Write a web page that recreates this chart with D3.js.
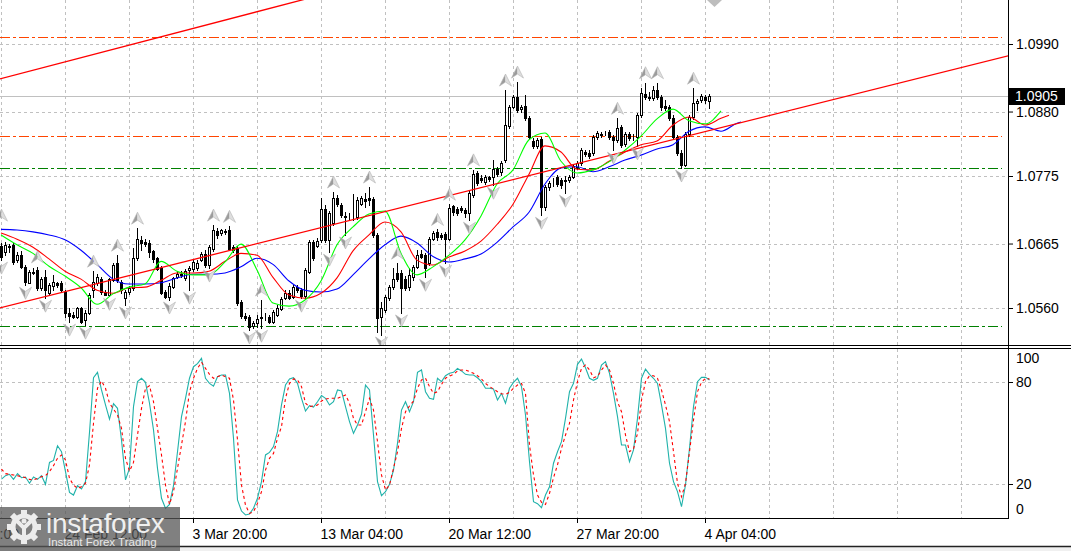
<!DOCTYPE html>
<html><head><meta charset="utf-8">
<script src="https://cdn.jsdelivr.net/npm/d3@7"></script>
<style>
html,body{margin:0;padding:0;background:#fff;overflow:hidden;}
svg{display:block;font-family:"Liberation Sans",Arial,sans-serif;}
</style></head><body>
<svg id="c" width="1071" height="551"></svg>
<script>
// ---------- DATA (EURUSD H4) ----------
const opens = [
1.0661,1.0651,1.0661,1.0663,1.0638,1.0646,1.0627,1.0601,1.0618,1.0622,
1.0593,1.0610,1.0584,1.0596,1.0601,1.0601,1.0586,1.0552,1.0549,1.0545,
1.0560,1.0540,1.0552,1.0589,1.0601,1.0607,1.0586,1.0581,1.0605,1.0633,
1.0602,1.0576,1.0586,1.0593,1.0641,1.0671,1.0667,1.0666,1.0653,1.0641,
1.0625,1.0586,1.0578,1.0594,1.0610,1.0614,1.0609,1.0622,1.0623,1.0625,
1.0638,1.0648,1.0630,1.0656,1.0685,1.0682,1.0685,1.0687,1.0659,1.0658,
1.0570,1.0547,1.0545,1.0531,1.0536,1.0544,1.0545,1.0545,1.0537,1.0549,
1.0558,1.0576,1.0584,1.0578,1.0594,1.0589,1.0579,1.0618,1.0667,1.0661,
1.0671,1.0721,1.0671,1.0698,1.0739,1.0728,1.0710,1.0710,1.0708,1.0708,
1.0729,1.0738,1.0739,1.0738,1.0679,1.0545,1.0557,1.0576,1.0594,1.0617,
1.0617,1.0607,1.0594,1.0610,1.0627,1.0648,1.0646,1.0633,1.0672,1.0684,
1.0679,1.0680,1.0672,1.0726,1.0721,1.0723,1.0720,1.0714,1.0744,1.0780,
1.0772,1.0765,1.0773,1.0773,1.0786,1.0782,1.0801,1.0856,1.0887,1.0904,
1.0884,1.0889,1.0869,1.0832,1.0824,1.0835,1.0724,1.0757,1.0765,1.0773,
1.0769,1.0767,1.0769,1.0773,1.0790,1.0796,1.0814,1.0812,1.0812,1.0839,
1.0843,1.0845,1.0847,1.0839,1.0834,1.0855,1.0827,1.0843,1.0840,1.0839,
1.0874,1.0909,1.0904,1.0902,1.0915,1.0904,1.0889,1.0887,1.0869,1.0839,
1.0812,1.0793,1.0843,1.0871,1.0894,1.0899,1.0904,1.0897];
const highs = [
1.0666,1.0667,1.0664,1.0666,1.0651,1.0653,1.0630,1.0622,1.0625,1.0627,
1.0610,1.0622,1.0601,1.0614,1.0602,1.0604,1.0589,1.0560,1.0553,1.0562,
1.0562,1.0557,1.0584,1.0620,1.0615,1.0610,1.0589,1.0609,1.0633,1.0646,
1.0605,1.0589,1.0596,1.0658,1.0690,1.0677,1.0672,1.0671,1.0654,1.0643,
1.0628,1.0589,1.0601,1.0610,1.0618,1.0620,1.0623,1.0628,1.0638,1.0638,
1.0651,1.0654,1.0663,1.0695,1.0690,1.0688,1.0688,1.0693,1.0663,1.0661,
1.0573,1.0552,1.0549,1.0539,1.0549,1.0573,1.0552,1.0549,1.0557,1.0565,
1.0578,1.0589,1.0589,1.0597,1.0597,1.0593,1.0625,1.0671,1.0671,1.0674,
1.0739,1.0728,1.0718,1.0749,1.0744,1.0731,1.0716,1.0714,1.0746,1.0741,
1.0742,1.0747,1.0757,1.0741,1.0682,1.0570,1.0581,1.0597,1.0625,1.0633,
1.0622,1.0612,1.0625,1.0630,1.0654,1.0654,1.0649,1.0675,1.0685,1.0688,
1.0682,1.0684,1.0729,1.0728,1.0724,1.0726,1.0723,1.0751,1.0785,1.0783,
1.0777,1.0777,1.0775,1.0801,1.0790,1.0799,1.0915,1.0891,1.0907,1.0928,
1.0891,1.0907,1.0873,1.0837,1.0837,1.0839,1.0760,1.0767,1.0772,1.0777,
1.0772,1.0775,1.0777,1.0795,1.0799,1.0821,1.0817,1.0817,1.0842,1.0848,
1.0847,1.0848,1.0850,1.0842,1.0869,1.0858,1.0847,1.0847,1.0843,1.0878,
1.0918,1.0927,1.0912,1.0922,1.0927,1.0907,1.0899,1.0891,1.0874,1.0842,
1.0817,1.0847,1.0874,1.0918,1.0900,1.0909,1.0907,1.0909];
const lows = [
1.0638,1.0646,1.0651,1.0631,1.0635,1.0625,1.0597,1.0600,1.0615,1.0589,
1.0589,1.0576,1.0581,1.0589,1.0594,1.0586,1.0545,1.0537,1.0544,1.0544,
1.0536,1.0532,1.0550,1.0578,1.0597,1.0583,1.0581,1.0579,1.0604,1.0602,
1.0584,1.0565,1.0583,1.0589,1.0638,1.0654,1.0661,1.0643,1.0635,1.0622,
1.0583,1.0576,1.0573,1.0593,1.0609,1.0610,1.0605,1.0589,1.0620,1.0622,
1.0636,1.0627,1.0625,1.0653,1.0674,1.0679,1.0680,1.0654,1.0651,1.0565,
1.0544,1.0540,1.0524,1.0527,1.0529,1.0527,1.0540,1.0536,1.0536,1.0547,
1.0557,1.0575,1.0575,1.0576,1.0586,1.0576,1.0576,1.0617,1.0638,1.0659,
1.0667,1.0667,1.0651,1.0695,1.0726,1.0708,1.0679,1.0705,1.0703,1.0705,
1.0728,1.0724,1.0728,1.0675,1.0521,1.0516,1.0553,1.0573,1.0591,1.0604,
1.0552,1.0589,1.0589,1.0605,1.0625,1.0641,1.0610,1.0630,1.0671,1.0671,
1.0672,1.0633,1.0671,1.0711,1.0711,1.0716,1.0708,1.0703,1.0741,1.0760,
1.0765,1.0762,1.0767,1.0760,1.0775,1.0777,1.0798,1.0853,1.0886,1.0879,
1.0879,1.0866,1.0835,1.0821,1.0821,1.0711,1.0720,1.0752,1.0759,1.0759,
1.0755,1.0747,1.0765,1.0772,1.0786,1.0793,1.0808,1.0804,1.0809,1.0835,
1.0839,1.0842,1.0835,1.0817,1.0830,1.0822,1.0824,1.0834,1.0834,1.0824,
1.0871,1.0900,1.0899,1.0899,1.0900,1.0883,1.0883,1.0866,1.0835,1.0809,
1.0788,1.0791,1.0840,1.0868,1.0883,1.0896,1.0894,1.0886];
const closes = [
1.0643,1.0663,1.0659,1.0635,1.0646,1.0627,1.0602,1.0618,1.0617,1.0593,
1.0607,1.0589,1.0597,1.0602,1.0597,1.0589,1.0552,1.0547,1.0545,1.0560,
1.0537,1.0552,1.0581,1.0602,1.0610,1.0586,1.0581,1.0607,1.0630,1.0605,
1.0589,1.0586,1.0593,1.0641,1.0672,1.0666,1.0664,1.0651,1.0640,1.0623,
1.0584,1.0578,1.0596,1.0609,1.0615,1.0615,1.0620,1.0625,1.0635,1.0633,
1.0648,1.0630,1.0659,1.0687,1.0679,1.0687,1.0684,1.0656,1.0654,1.0568,
1.0547,1.0544,1.0529,1.0536,1.0542,1.0545,1.0545,1.0537,1.0553,1.0560,
1.0575,1.0584,1.0576,1.0594,1.0589,1.0579,1.0622,1.0667,1.0641,1.0669,
1.0721,1.0671,1.0714,1.0739,1.0729,1.0711,1.0708,1.0710,1.0708,1.0736,
1.0739,1.0734,1.0736,1.0679,1.0544,1.0560,1.0578,1.0594,1.0607,1.0607,
1.0593,1.0593,1.0614,1.0627,1.0646,1.0643,1.0625,1.0672,1.0682,1.0675,
1.0675,1.0672,1.0723,1.0716,1.0714,1.0720,1.0714,1.0747,1.0778,1.0764,
1.0769,1.0773,1.0770,1.0786,1.0778,1.0796,1.0858,1.0887,1.0904,1.0883,
1.0887,1.0869,1.0839,1.0824,1.0834,1.0724,1.0757,1.0764,1.0765,1.0762,
1.0760,1.0769,1.0773,1.0791,1.0796,1.0817,1.0811,1.0808,1.0839,1.0845,
1.0842,1.0845,1.0839,1.0834,1.0853,1.0826,1.0843,1.0837,1.0840,1.0874,
1.0910,1.0904,1.0902,1.0915,1.0904,1.0887,1.0886,1.0869,1.0839,1.0812,
1.0793,1.0843,1.0871,1.0894,1.0897,1.0905,1.0899,1.0905];

// Alligator (sampled every 4 bars, last value = end of shifted line)
const jawPrices = [1.0688,1.0687,1.0684,1.0679,1.0671,1.0654,1.0631,1.0607,1.0599,1.0599,
1.0601,1.0609,1.0615,1.0615,1.0617,1.0627,1.0641,1.0631,1.0604,1.0589,1.0586,1.0591,1.0614,
1.0640,1.0663,1.0677,1.0666,1.0644,1.0635,1.0640,1.0648,1.0667,1.0692,1.0716,1.0762,1.0788,
1.0790,1.0782,1.0790,1.0801,1.0809,1.0819,1.0826,1.0848,1.0855,1.0848,1.0861,1.0863];
const teethPrices = [1.0682,1.0672,1.0659,1.0640,1.0620,1.0607,1.0589,1.0584,1.0593,1.0594,
1.0605,1.0617,1.0617,1.0620,1.0636,1.0649,1.0646,1.0610,1.0581,1.0576,1.0584,1.0609,1.0653,
1.0679,1.0700,1.0684,1.0638,1.0630,1.0643,1.0653,1.0669,1.0696,1.0729,1.0778,1.0824,1.0814,
1.0786,1.0785,1.0799,1.0814,1.0826,1.0832,1.0858,1.0871,1.0858,1.0869,1.0874];
const lipsPrices = [1.0679,1.0663,1.0649,1.0628,1.0612,1.0593,1.0566,1.0583,1.0594,1.0599,
1.0636,1.0620,1.0614,1.0614,1.0635,1.0664,1.0622,1.0568,1.0563,1.0573,1.0604,1.0663,1.0692,
1.0713,1.0718,1.0649,1.0614,1.0627,1.0646,1.0671,1.0710,1.0762,1.0785,1.0834,1.0845,1.0799,
1.0780,1.0785,1.0798,1.0817,1.0840,1.0868,1.0884,1.0865,1.0860,1.0881];

// Stochastic (main %K and signal %D), one value per bar
const stochMain = [
22.9,24.9,25.7,22.7,26.1,23.7,24.1,20.4,24.1,22.7,
24.9,19.8,32.7,33.9,42.5,39.0,27.3,15.1,13.5,19.0,
17.1,21.4,50.4,82.5,85.7,75.3,66.5,58.2,67.3,64.5,
45.9,22.4,29.2,65.5,80.2,82.2,79.8,67.5,51.8,29.2,
11.6,5.7,8.0,19.0,39.0,59.6,70.4,82.2,89.0,90.8,
93.9,82.2,79.2,77.5,83.1,84.1,84.1,73.3,46.9,10.6,
4.1,1.8,2.4,5.7,11.6,21.4,37.1,38.6,42.0,50.8,
66.5,78.2,81.8,82.5,79.2,70.4,62.9,66.1,65.3,68.4,
72.0,70.4,66.5,68.4,75.3,74.7,65.5,56.7,49.8,54.7,
61.0,78.2,75.3,48.8,21.4,13.1,15.5,19.8,28.2,43.9,
63.5,68.4,62.5,68.4,85.7,87.1,74.3,70.4,69.8,82.2,
80.2,83.7,85.1,85.7,88.0,86.5,84.5,84.1,84.1,82.5,
80.2,76.3,76.3,75.9,69.4,73.3,67.5,76.3,79.8,82.2,
77.3,60.6,33.1,9.6,8.4,6.1,13.5,18.4,32.2,39.0,
44.9,58.6,74.3,79.2,90.4,93.5,88.4,82.2,81.0,82.2,
90.0,92.0,85.1,73.3,59.6,42.9,42.9,33.1,40.0,58.6,
82.2,87.6,84.5,82.2,79.2,66.5,52.7,32.2,21.4,15.5,
6.7,19.4,41.0,65.5,80.2,82.7,82.7,81.2];
const stochSignal = [
28.8,26.1,25.7,25.3,24.9,24.3,23.7,22.7,22.4,23.3,
24.3,24.9,27.3,30.8,35.1,37.1,34.1,23.3,19.4,17.5,
18.4,20.4,31.2,55.7,76.3,80.6,76.3,67.5,64.1,60.6,
52.7,35.1,27.6,32.7,48.8,64.5,76.3,77.8,68.4,52.7,
37.1,19.4,8.0,15.5,29.2,42.9,56.7,74.3,82.2,88.0,
91.6,88.0,84.5,82.2,83.1,84.1,83.1,82.2,69.4,45.9,
19.4,7.6,2.7,3.7,8.6,15.5,28.2,35.1,38.0,46.9,
53.7,70.4,79.2,81.8,81.2,77.3,67.5,65.5,65.9,66.5,
68.8,70.0,70.4,70.4,70.4,71.4,72.4,67.5,58.6,54.7,
54.7,62.5,70.4,63.5,44.9,25.3,16.5,19.4,29.2,39.0,
52.7,62.5,65.9,68.8,76.3,81.2,82.2,77.3,73.3,74.3,
78.6,82.2,83.5,84.5,86.5,87.1,87.1,86.1,85.1,83.7,
81.8,79.2,77.3,75.9,74.3,73.1,72.7,73.9,76.3,78.2,
79.2,73.3,42.9,25.3,13.5,9.2,8.0,14.5,23.7,31.2,
41.0,48.8,55.7,69.4,80.2,88.0,90.0,87.1,82.5,83.3,
87.1,90.0,87.1,79.2,68.4,62.5,48.8,39.0,40.6,49.8,
69.4,80.2,83.7,83.7,82.2,75.3,66.5,56.7,39.0,20.4,
12.5,20.4,39.0,57.6,74.3,79.8,82.2,81.8];

// Fractals (bar index + price)
const fractalUpIdx = [0,9,23,29,34,53,57,65,83,92,99,109,112,118,126,129,154,161,164,173];
const fractalUpPrice = [1.0695,1.0627,1.0620,1.0646,1.0690,1.0695,1.0693,1.0573,1.0749,1.0757,
  1.0633,1.0688,1.0729,1.0785,1.0915,1.0928,1.0869,1.0927,1.0927,1.0918];
const fractalDnIdx = [0,6,11,17,21,27,31,42,47,52,62,65,75,82,86,95,100,106,111,117,123,135,141,153,159,170];
const fractalDnPrice = [1.0638,1.0597,1.0576,1.0537,1.0532,1.0579,1.0565,1.0573,1.0589,1.0625,
  1.0524,1.0527,1.0576,1.0651,1.0679,1.0516,1.0552,1.0610,1.0633,1.0703,1.0760,1.0711,1.0747,1.0817,1.0824,1.0788];

// Trend lines (two anchor points each: bar index, price)
const trendLowerIdx = [-1, 252];
const trendLowerPrice = [1.0559, 1.0971];
const trendUpperIdx = [-1, 76];
const trendUpperPrice = [1.0932, 1.1063];

// Horizontal levels
const levelPrices = [1.1001, 1.0840, 1.0788, 1.0531];
const levelColors = ["#ff4500", "#ff4500", "#008000", "#008000"];
const bidPrice = 1.0905;

// Axes
const priceTicks = [1.0990, 1.0880, 1.0775, 1.0665, 1.0560];
const stochTicks = [100, 80, 20, 0];
const timeIdx = [-16, 16, 48, 80, 112, 144, 176];
const timeLabels = ["17 Feb 04:00","24 Feb 12:00","3 Mar 20:00","13 Mar 04:00","20 Mar 12:00","27 Mar 20:00","4 Apr 04:00"];

// ---------- DRAW ----------
const svg = d3.select('#c');
const FONT = '"Liberation Sans", Arial, sans-serif';
const XR = 1008;
const x = d3.scaleLinear().domain([0, 177]).range([1, 709]);
const y = d3.scaleLinear().domain([1.0560, 1.0990]).range([308, 44]);
const ys = d3.scaleLinear().domain([0, 100]).range([518, 348]);
const n = closes.length;

const defs = svg.append('defs');
defs.append('clipPath').attr('id','clipMain').append('rect').attr('x',0).attr('y',0).attr('width',XR).attr('height',345);
defs.append('clipPath').attr('id','clipSt').append('rect').attr('x',0).attr('y',348).attr('width',XR).attr('height',170);

svg.append('rect').attr('width',1071).attr('height',551).attr('fill','#fff');

// grid
const grid = svg.append('g').attr('stroke','#c0c0c0').attr('stroke-width',1).attr('stroke-dasharray','3,3').attr('fill','none');
const gridIdx = d3.range(0, 241, 16);
gridIdx.forEach(i => {
  const gx = Math.round(x(i)) + 0.5;
  grid.append('line').attr('x1',gx).attr('x2',gx).attr('y1',0).attr('y2',345);
  grid.append('line').attr('x1',gx).attr('x2',gx).attr('y1',349).attr('y2',518);
});
priceTicks.forEach(p => {
  const gy = Math.round(y(p)) + 0.5;
  grid.append('line').attr('x1',0).attr('x2',XR).attr('y1',gy).attr('y2',gy);
});
[80, 20].forEach(v => {
  const gy = Math.round(ys(v)) + 0.5;
  grid.append('line').attr('x1',0).attr('x2',XR).attr('y1',gy).attr('y2',gy);
});

const main = svg.append('g').attr('clip-path','url(#clipMain)');

// bid line
main.append('line').attr('x1',0).attr('x2',XR)
  .attr('y1',Math.round(y(bidPrice))+0.5).attr('y2',Math.round(y(bidPrice))+0.5)
  .attr('stroke','#c0c0c0').attr('stroke-width',1);

// horizontal levels
levelPrices.forEach((p,k) => {
  const ly = Math.round(y(p)) + 0.5;
  main.append('line').attr('x1',0).attr('x2',1002).attr('y1',ly).attr('y2',ly)
    .attr('stroke',levelColors[k]).attr('stroke-width',1).attr('stroke-dasharray','10,3,3,3');
});

// candles
const cg = main.append('g');
for (let i = 0; i < n; i++) {
  const cx = Math.round(x(i));
  cg.append('line').attr('x1',cx+0.5).attr('x2',cx+0.5)
    .attr('y1',Math.round(y(highs[i]))).attr('y2',Math.round(y(lows[i]))+1)
    .attr('stroke','#000').attr('stroke-width',1);
  const top = Math.round(y(Math.max(opens[i], closes[i])));
  const bot = Math.round(y(Math.min(opens[i], closes[i])));
  const bull = closes[i] >= opens[i];
  cg.append('rect').attr('x',cx-0.5).attr('y',top+0.5).attr('width',2).attr('height',Math.max(0, bot-top))
    .attr('fill', bull ? '#fff' : '#000').attr('stroke','#000').attr('stroke-width',1);
}

// alligator
function maLine(vals, shiftEnd, color) {
  const idx = d3.range(0, 4*(vals.length-1), 4).concat([shiftEnd]);
  const pts = vals.map((v,k) => [x(idx[k]), y(v)]);
  main.append('path').attr('d', d3.line().curve(d3.curveMonotoneX)(pts))
    .attr('fill','none').attr('stroke',color).attr('stroke-width',1.1);
}
maLine(jawPrices, 185, '#0000ff');
maLine(teethPrices, 182, '#ff0000');
maLine(lipsPrices, 180, '#00ff00');

// trend lines
[[trendLowerIdx, trendLowerPrice],[trendUpperIdx, trendUpperPrice]].forEach(([ix, pr]) => {
  main.append('line').attr('x1',x(ix[0])).attr('y1',y(pr[0])).attr('x2',x(ix[1])).attr('y2',y(pr[1]))
    .attr('stroke','#ff0000').attr('stroke-width',1.3);
});

// fractal arrows
function arrow(g, cx, cy, up) {
  const s = up ? 1 : -1;
  const a = g.append('g').attr('transform',`translate(${cx},${cy}) scale(1,${s})`);
  a.append('path').attr('d','M0,-6 L-6,6 L0,2 Z').attr('fill','#9c9c9c');
  a.append('path').attr('d','M0,-6 L6,6 L0,2 Z').attr('fill','#dedede');
  a.append('path').attr('d','M0,-6 L6,6 L0,2 L-6,6 Z').attr('fill','none').attr('stroke','#b4b4b4').attr('stroke-width',0.6);
}
const fg = main.append('g');
fractalUpIdx.forEach((i,k) => arrow(fg, x(i)+0.5, y(fractalUpPrice[k]) - 10, true));
fractalDnIdx.forEach((i,k) => arrow(fg, x(i)+0.5, y(fractalDnPrice[k]) + 8, false));

// gray marker at top
main.append('path').attr('d','M707,0 L722,0 L714.5,7 Z').attr('fill','#bdbdbd');

// stochastic
const st = svg.append('g').attr('clip-path','url(#clipSt)');
const sLine = d3.line().x((d,i) => x(i) + 0.5).y(d => ys(d));
st.append('path').attr('d', sLine(stochMain)).attr('fill','none').attr('stroke','#20b2aa').attr('stroke-width',1.1);
st.append('path').attr('d', sLine(stochSignal)).attr('fill','none').attr('stroke','#ff0000').attr('stroke-width',1.1).attr('stroke-dasharray','3,3');

// frame lines
const fr = svg.append('g').attr('stroke','#000').attr('stroke-width',1);
fr.append('line').attr('x1',0).attr('x2',1071).attr('y1',345.5).attr('y2',345.5);
fr.append('line').attr('x1',0).attr('x2',1071).attr('y1',348.5).attr('y2',348.5);
fr.append('line').attr('x1',0).attr('x2',XR).attr('y1',518.5).attr('y2',518.5);
fr.append('line').attr('x1',XR+0.5).attr('x2',XR+0.5).attr('y1',0).attr('y2',519);

// price axis
const pAxis = svg.append('g').attr('transform',`translate(${XR+1},0)`)
  .call(d3.axisRight(y).tickValues(priceTicks).tickFormat(d3.format('.4f')).tickSize(4).tickPadding(3));
pAxis.select('.domain').remove();
pAxis.attr('font-family',FONT).attr('font-size',14);
pAxis.selectAll('text').attr('fill','#000');

// bid label
const by = y(bidPrice);
svg.append('rect').attr('x',1009).attr('y',Math.round(by)-8).attr('width',56).attr('height',17).attr('fill','#000');
svg.append('text').attr('x',1015).attr('y',by).attr('dy','0.36em').attr('fill','#fff')
  .attr('font-family',FONT).attr('font-size',14).text(d3.format('.4f')(bidPrice));

// stochastic axis
const sAxis = svg.append('g').attr('transform',`translate(${XR+1},0)`)
  .call(d3.axisRight(ys).tickValues(stochTicks).tickSize(4).tickPadding(3));
sAxis.select('.domain').remove();
sAxis.attr('font-family',FONT).attr('font-size',14);
sAxis.selectAll('.tick').filter(d => d === 100).select('text').attr('y',10);
sAxis.selectAll('.tick').filter(d => d === 0).select('text').attr('y',-9);
sAxis.selectAll('.tick').filter(d => d === 100 || d === 0).select('line').remove();

// time axis
const tAxis = svg.append('g').attr('transform','translate(0,519)')
  .call(d3.axisBottom(x).tickValues(timeIdx).tickFormat((d,i) => timeLabels[i]).tickSize(4).tickPadding(6));
tAxis.select('.domain').remove();
tAxis.attr('font-family',FONT).attr('font-size',14);
tAxis.selectAll('text').attr('text-anchor','start').attr('x',-1).attr('fill','#000');

// bottom edge
svg.append('rect').attr('x',0).attr('y',547).attr('width',1071).attr('height',4).attr('fill','#f0f0f0');
svg.append('line').attr('x1',0).attr('x2',1071).attr('y1',546.5).attr('y2',546.5).attr('stroke','#222').attr('stroke-width',1.5);

// logo overlay
const logo = svg.append('g');
logo.append('rect').attr('x',0).attr('y',507).attr('width',180).attr('height',44).attr('fill','#555').attr('opacity',0.75);
const gear = logo.append('g').attr('transform','translate(24,527)');
gear.append('circle').attr('r',11).attr('fill','none').attr('stroke','#ececec').attr('stroke-width',5);
d3.range(8).forEach(k => {
  gear.append('rect').attr('x',-3).attr('y',-17).attr('width',6).attr('height',6).attr('fill','#ececec')
    .attr('transform',`rotate(${k*45})`);
});
gear.append('path').attr('d','M-7,-6 L0,1 L7,-6 M0,1 L0,10').attr('stroke','#ececec').attr('stroke-width',4).attr('fill','none');
gear.append('circle').attr('cx',0).attr('cy',-6).attr('r',2.5).attr('fill','#ececec');
logo.append('text').attr('x',46).attr('y',533).attr('fill','#f0f0f0').attr('font-family',FONT)
  .attr('font-size',28).attr('letter-spacing',-0.3).text('instaforex');
logo.append('text').attr('x',48).attr('y',546).attr('fill','#e8e8e8').attr('font-family',FONT)
  .attr('font-size',11.5).text('Instant Forex Trading');
</script>
</body></html>
